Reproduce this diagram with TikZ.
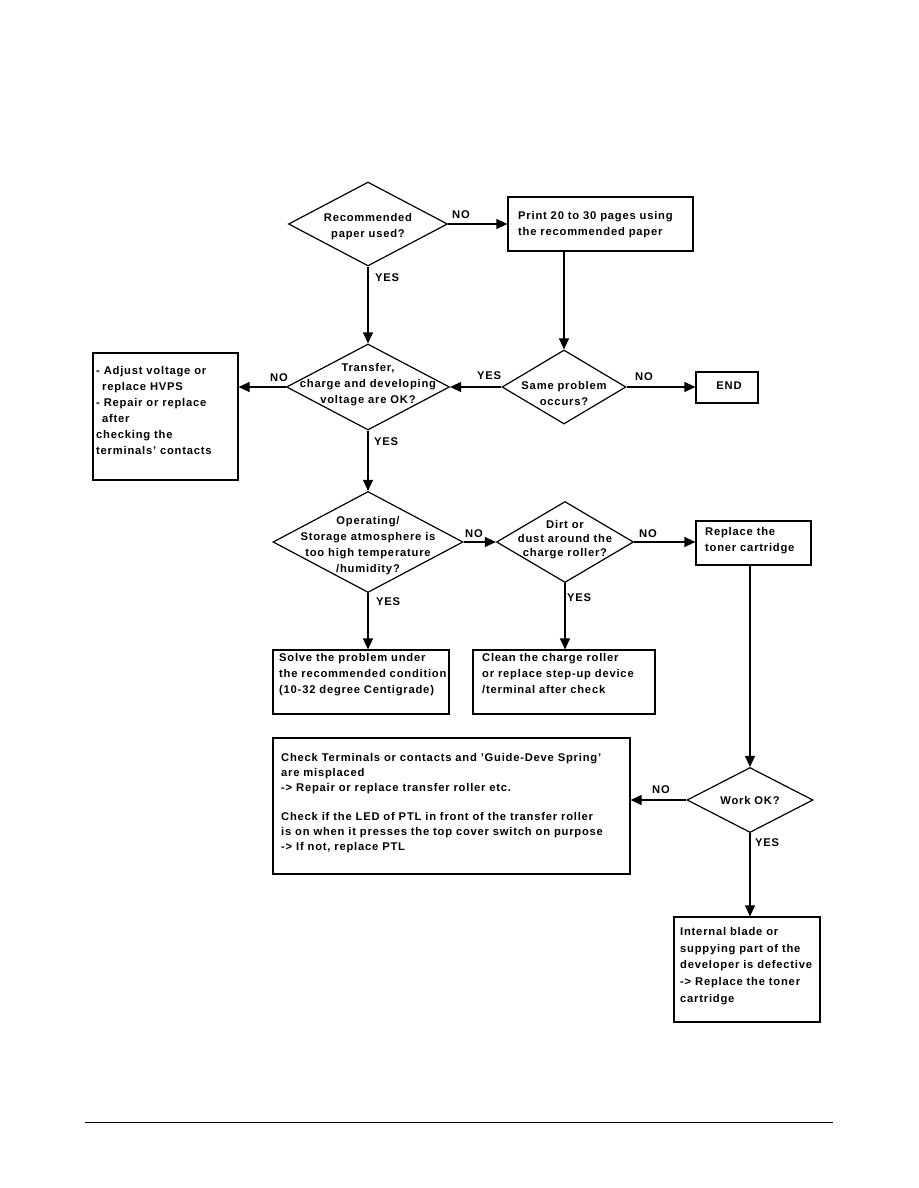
\documentclass[tikz,border=0pt]{standalone}
\usepackage{fontspec}
\setmainfont[LetterSpace=7]{Liberation Sans}
\usetikzlibrary{shapes.geometric,arrows.meta}
\newcommand{\mytext}{\fontsize{11.2}{16}\selectfont\bfseries}
\tikzset{
  ln/.style={line width=1.2pt},
  arr/.style={ln,-{Triangle[length=11pt,width=10pt]}},
  dia/.style={diamond,draw,ln,inner sep=0pt},
  box/.style={rectangle,draw,ln,inner sep=0pt},
  txt/.style={font=\mytext,align=left,inner sep=0pt,anchor=north west},
  ctxt/.style={font=\mytext,align=center,inner sep=0pt},
  lbl/.style={font=\mytext,inner sep=0pt}
}
\begin{document}
\begin{tikzpicture}[x=1pt,y=-1pt]
\useasboundingbox (0,0) rectangle (918,1188);
% diamonds
\node[dia,minimum width=159pt,minimum height=84pt] (d1) at (368,224) {};
\node[ctxt] (d1t) at (368,227) {Recommended\\paper used?};
\node[dia,minimum width=163pt,minimum height=86pt] (d2) at (368,387) {};
\node[ctxt] (d2t) at (368,385) {Transfer,\\charge and developing\\voltage are OK?};
\node[dia,minimum width=124pt,minimum height=74pt] (d3) at (564,387) {};
\node[ctxt] (d3t) at (564,393) {Same problem\\occurs?};
\node[dia,minimum width=190pt,minimum height=101pt] (d4) at (368,542) {};
\node[ctxt] (d4t) at (368,546) {Operating/\\Storage atmosphere is\\too high temperature\\/humidity?};
\node[dia,minimum width=137pt,minimum height=81pt] (d5) at (565,542) {};
\node[ctxt,font=\fontsize{11.2}{14}\selectfont\bfseries] (d5t) at (565,540) {Dirt or\\dust around the\\charge roller?};
\node[dia,minimum width=126pt,minimum height=65pt] (d6) at (750,800) {};
\node[ctxt] (d6t) at (750,800) {Work OK?};
% boxes
\node[box,minimum width=185pt,minimum height=54pt] (pr) at (600.5,224) {};
\node[txt] (prt) at (518,211) {Print 20 to 30 pages using\\the recommended paper};
\node[box,minimum width=145pt,minimum height=127pt] (lb) at (165.5,416.5) {};
\node[txt] (lbt) at (96,366) {- Adjust voltage or\\\hspace{6pt}replace HVPS\\- Repair or replace\\\hspace{6pt}after\\checking the\\terminals' contacts};
\node[box,minimum width=62pt,minimum height=31pt] (eb) at (727,387.5) {};
\node[lbl] (ebt) at (729,386) {END};
\node[box,minimum width=115pt,minimum height=44pt] (rb) at (753.5,543) {};
\node[txt] (rbt) at (705,527) {Replace the\\toner cartridge};
\node[box,minimum width=176pt,minimum height=64pt] (sb) at (361,682) {};
\node[txt] (sbt) at (279,653.5) {Solve the problem under\\the recommended condition\\(10-32 degree Centigrade)};
\node[box,minimum width=182pt,minimum height=64pt] (cb) at (564,682) {};
\node[txt] (cbt) at (482,653.5) {Clean the charge roller\\or replace step-up device\\/terminal after check};
\node[box,minimum width=357pt,minimum height=136pt] (bb) at (451.5,806) {};
\node[txt,font=\fontsize{11.2}{15}\selectfont\bfseries] (bbt) at (281,753) {Check Terminals or contacts and 'Guide-Deve Spring'\\are misplaced\\-> Repair or replace transfer roller etc.\\[14pt]Check if the LED of PTL in front of the transfer roller\\is on when it presses the top cover switch on purpose\\-> If not, replace PTL};
\node[box,minimum width=146pt,minimum height=105pt] (lo) at (747,969.5) {};
\node[txt,font=\fontsize{11.2}{16.8}\selectfont\bfseries] (lot) at (680,927) {Internal blade or\\suppying part of the\\developer is defective\\-> Replace the toner\\cartridge};
% connectors
\draw[arr] (d1.east) -- (pr.west);
\draw[arr] (d1.south) -- (d2.north);
\draw[arr] (d3.north |- pr.south) -- (d3.north);
\draw[arr] (d2.west) -- (d2.west -| lb.east);
\draw[arr] (d3.west) -- (d2.east);
\draw[arr] (d3.east) -- (d3.east -| eb.west);
\draw[arr] (d2.south) -- (d4.north);
\draw[arr] (d4.east) -- (d5.west);
\draw[arr] (d5.east) -- (d5.east -| rb.west);
\draw[arr] (d4.south) -- (d4.south |- sb.north);
\draw[arr] (d5.south) -- (d5.south |- cb.north);
\draw[arr] (d6.north |- rb.south) -- (d6.north);
\draw[arr] (d6.west) -- (d6.west -| bb.east);
\draw[arr] (d6.south) -- (d6.south |- lo.north);
% labels
\node[lbl] (l1) at (461,215) {NO};
\node[lbl] (l2) at (387,278) {YES};
\node[lbl] (l3) at (279,378) {NO};
\node[lbl] (l4) at (386,442) {YES};
\node[lbl] (l5) at (489,376) {YES};
\node[lbl] (l6) at (644,377) {NO};
\node[lbl] (l7) at (474,534) {NO};
\node[lbl] (l8) at (388,602) {YES};
\node[lbl] (l9) at (648,534) {NO};
\node[lbl] (l10) at (579,598) {YES};
\node[lbl] (l11) at (661,790) {NO};
\node[lbl] (l12) at (767,843) {YES};
% footer rule
\coordinate (fl) at (85,1122);
\coordinate (fr) at (833,1122);
\draw[line width=1pt] (fl) -- (fr);
\end{tikzpicture}
\end{document}
